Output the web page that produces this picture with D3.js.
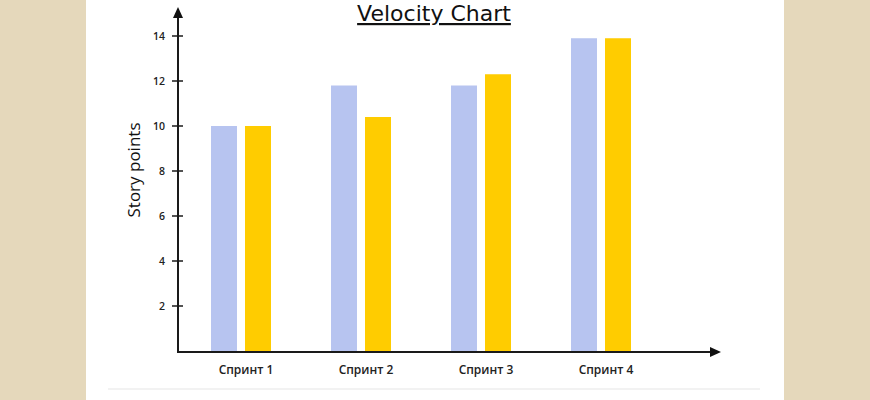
<!DOCTYPE html>
<html><head><meta charset="utf-8">
<script src="https://cdn.jsdelivr.net/npm/d3@7"></script>
<style>html,body{margin:0;padding:0;background:#e5d8bb;}svg{display:block;}</style>
</head><body>
<svg id="c" width="870" height="400"></svg>
<script>
const categories = ["Спринт 1", "Спринт 2", "Спринт 3", "Спринт 4"];
const seriesA = [10, 11.8, 11.8, 13.9];
const seriesB = [10, 10.4, 12.3, 13.9];
const yTicks = [2, 4, 6, 8, 10, 12, 14];
const title = "Velocity Chart";
const yLabel = "Story points";

const svg = d3.select("#c");
svg.append("rect").attr("x", 86).attr("y", 0).attr("width", 698).attr("height", 400).attr("fill", "#ffffff");
svg.append("line").attr("x1", 108).attr("x2", 760).attr("y1", 389).attr("y2", 389).attr("stroke", "#f2f2f2").attr("stroke-width", 2);

const x0 = 178, yBase = 352;
const y = d3.scaleLinear().domain([0, 14]).range([351, 36]);
const x = d3.scaleBand().domain(categories).range([181, 661]).paddingInner(0).paddingOuter(0);
const xi = d3.scaleBand().domain(["a", "b"]).range([0, 60]).paddingInner(0.235).paddingOuter(0);
const colors = { a: "#b7c4f0", b: "#ffcc00" };

const g = svg.append("g");
categories.forEach((c, i) => {
  const cx = x(c) + x.bandwidth() / 2 - 30;
  [["a", seriesA[i]], ["b", seriesB[i]]].forEach(([k, v]) => {
    g.append("rect")
      .attr("x", cx + xi(k))
      .attr("y", y(v))
      .attr("width", xi.bandwidth())
      .attr("height", yBase - y(v))
      .attr("fill", colors[k]);
  });
});

// axes
const ax = svg.append("g").attr("stroke", "#1a1a1a").attr("stroke-width", 2);
ax.append("line").attr("x1", x0).attr("x2", x0).attr("y1", yBase + 1).attr("y2", 14);
ax.append("line").attr("x1", x0 - 1).attr("x2", 714).attr("y1", yBase).attr("y2", yBase);
svg.append("path").attr("d", `M${x0},7 L${x0 - 5},18 L${x0 + 5},18 Z`).attr("fill", "#111");
svg.append("path").attr("d", `M721,${yBase} L710,${yBase - 5} L710,${yBase + 5} Z`).attr("fill", "#111");

// y ticks
const yt = svg.append("g");
yTicks.forEach(t => {
  yt.append("line").attr("x1", x0 - 6).attr("x2", x0 + 5).attr("y1", y(t)).attr("y2", y(t))
    .attr("stroke", "#1a1a1a").attr("stroke-width", 1.5);
  yt.append("text").attr("x", x0 - 13).attr("y", y(t)).attr("dy", "0.35em")
    .attr("text-anchor", "end").attr("font-family", "Open Sans, sans-serif")
    .attr("font-weight", 600).attr("font-size", 10.5).attr("fill", "#222").text(t);
});

// x labels
categories.forEach(c => {
  svg.append("text").attr("x", x(c) + x.bandwidth() / 2 + 5).attr("y", 374)
    .attr("text-anchor", "middle").attr("font-family", "Open Sans, sans-serif")
    .attr("font-weight", 600).attr("font-size", 12).attr("fill", "#222").text(c);
});

// title
svg.append("text").attr("x", 434).attr("y", 21).attr("text-anchor", "middle")
  .attr("font-family", "DejaVu Sans, sans-serif").attr("font-size", 22)
  .attr("text-decoration", "underline").attr("fill", "#111").text(title);

// y label
svg.append("text").attr("transform", "translate(140,170) rotate(-90)").attr("text-anchor", "middle")
  .attr("font-family", "Open Sans, sans-serif").attr("font-weight", 500).attr("font-size", 17).attr("fill", "#111").text(yLabel);
</script>
</body></html>
